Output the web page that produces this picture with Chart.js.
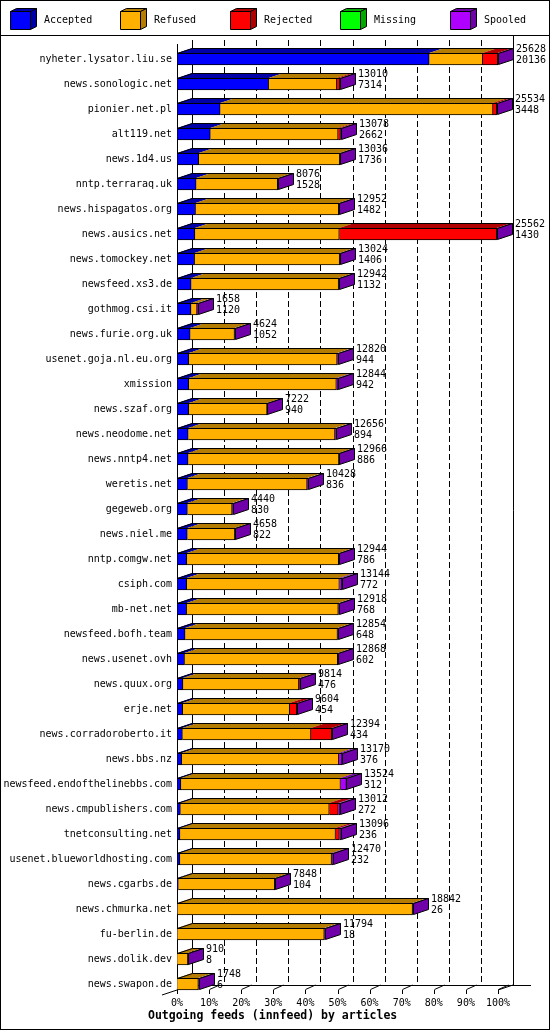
<!DOCTYPE html>
<html>
<head>
<meta charset="utf-8">
<script src="https://cdn.jsdelivr.net/npm/chart.js@4/dist/chart.umd.min.js"></script>
<style>
  html, body { margin: 0; padding: 0; background: #fff; }
</style>
</head>
<body>
<canvas id="feeds" width="550" height="1030"></canvas>
<script>
// ─── data ─────────────────────────────────────────────
const servers = [
  'nyheter.lysator.liu.se', 'news.sonologic.net', 'pionier.net.pl', 'alt119.net',
  'news.1d4.us', 'nntp.terraraq.uk', 'news.hispagatos.org', 'news.ausics.net',
  'news.tomockey.net', 'newsfeed.xs3.de', 'gothmog.csi.it', 'news.furie.org.uk',
  'usenet.goja.nl.eu.org', 'xmission', 'news.szaf.org', 'news.neodome.net',
  'news.nntp4.net', 'weretis.net', 'gegeweb.org', 'news.niel.me',
  'nntp.comgw.net', 'csiph.com', 'mb-net.net', 'newsfeed.bofh.team',
  'news.usenet.ovh', 'news.quux.org', 'erje.net', 'news.corradoroberto.it',
  'news.bbs.nz', 'newsfeed.endofthelinebbs.com', 'news.cmpublishers.com', 'tnetconsulting.net',
  'usenet.blueworldhosting.com', 'news.cgarbs.de', 'news.chmurka.net', 'fu-berlin.de',
  'news.dolik.dev', 'news.swapon.de'
];
// top number printed next to each bar (articles offered)
const offered = [
  25628, 13010, 25534, 13078, 13036, 8076, 12952, 25562,
  13024, 12942, 1658, 4624, 12820, 12844, 7222, 12656,
  12966, 10428, 4440, 4658, 12944, 13144, 12918, 12854,
  12868, 9814, 9604, 12394, 13170, 13524, 13012, 13096,
  12470, 7848, 18842, 11794, 910, 1748
];
// bottom number printed next to each bar
const accepted = [
  20136, 7314, 3448, 2662, 1736, 1528, 1482, 1430,
  1406, 1132, 1120, 1052, 944, 942, 940, 894,
  886, 836, 830, 822, 786, 772, 768, 648,
  602, 476, 454, 434, 376, 312, 272, 236,
  232, 104, 26, 18, 8, 6
];
const refused = [
  4270, 5440, 21780, 10200, 11260, 6508, 11430, 11528,
  11578, 11770, 480, 3540, 11840, 11780, 6250, 11720,
  12040, 9552, 3570, 3796, 12120, 12192, 12110, 12166,
  12226, 9252, 8540, 10260, 12540, 12740, 11884, 12420,
  12108, 7700, 18780, 11740, 860, 1700
];
const rejected = [
  1200, 240, 290, 190, 0, 0, 0, 12560,
  0, 0, 0, 0, 0, 0, 0, 0,
  0, 0, 0, 0, 0, 0, 0, 0,
  0, 50, 570, 1660, 0, 0, 718, 310,
  0, 0, 0, 0, 0, 0
];
const missing = [
  0, 0, 0, 0, 0, 0, 0, 0,
  0, 0, 0, 0, 0, 0, 0, 0,
  0, 0, 0, 0, 0, 0, 0, 0,
  0, 0, 0, 0, 0, 0, 0, 0,
  0, 0, 0, 0, 0, 0
];
const spooled = [
  22, 16, 16, 26, 40, 40, 40, 44,
  40, 40, 58, 32, 36, 122, 32, 42,
  40, 40, 40, 40, 38, 180, 40, 40,
  40, 36, 40, 40, 254, 472, 138, 130,
  130, 44, 36, 36, 42, 42
];
const seriesNames = ['Accepted', 'Refused', 'Rejected', 'Missing', 'Spooled'];
const xTickValues = [0, 10, 20, 30, 40, 50, 60, 70, 80, 90, 100];
const chartTitle = 'Outgoing feeds (innfeed) by articles';

// ─── look ─────────────────────────────────────────────
const FACE  = ['#0000ff', '#ffb000', '#ff0000', '#00ff00', '#b000ff'];
const SHADE = ['#0000a8', '#b47c00', '#b00000', '#00a800', '#7000a8'];
const DX = 15, DY = 5;               // 3d depth of the bars
const MONO = 'DejaVu Sans Mono';

const maxTotal = Math.max(...offered);
const pct = arr => arr.map(v => v / maxTotal * 100);
const P = v => Math.round(v) + 0.5;

function poly(ctx, pts, fill, stroke) {
  ctx.beginPath();
  pts.forEach(([px, py], i) => i ? ctx.lineTo(px, py) : ctx.moveTo(px, py));
  ctx.closePath();
  if (fill) { ctx.fillStyle = fill; ctx.fill(); }
  if (stroke) { ctx.strokeStyle = stroke; ctx.stroke(); }
}
function line(ctx, x1, y1, x2, y2) {
  ctx.beginPath(); ctx.moveTo(x1, y1); ctx.lineTo(x2, y2); ctx.stroke();
}

const threeD = {
  id: 'threeD',
  beforeDatasetsDraw(chart) {
    const { ctx, scales: { x } } = chart;
    const metas = chart.getSortedVisibleDatasetMetas();
    const lastEl = metas[0].data[servers.length - 1];
    const floorF = Math.round(lastEl.y + lastEl.height / 2);
    const floorB = floorF - DY;
    const x0 = x.getPixelForValue(0), x100 = x.getPixelForValue(100);
    ctx.save();
    ctx.strokeStyle = '#000';
    ctx.lineWidth = 1;
    // dashed grid on the back wall
    ctx.setLineDash([6, 3]);
    xTickValues.slice(1, -1).forEach(v => {
      const px = P(x.getPixelForValue(v) + DX);
      line(ctx, px, 40, px, floorB);
    });
    ctx.setLineDash([]);
    line(ctx, P(x0 + DX), 40, P(x0 + DX), floorB);
    line(ctx, P(x100 + DX), 36, P(x100 + DX), floorB + 0.5);
    line(ctx, P(x0), 44, P(x0), floorF);
    // floor
    line(ctx, x0 - DX, floorF + DY, x0 + DX, floorB);
    line(ctx, x0 + DX, floorB + 0.5, x100 + DX + 18, floorB + 0.5);
    line(ctx, x100, floorF, x100 + DX, floorB);
    xTickValues.forEach(v => {
      const px = P(x.getPixelForValue(v));
      line(ctx, px, floorF, px, floorF + 4);
      line(ctx, px, floorF - 0.5, px + 10, floorB);
    });
    ctx.restore();
  },
  afterDatasetsDraw(chart) {
    const { ctx } = chart;
    const metas = chart.getSortedVisibleDatasetMetas();
    ctx.save();
    ctx.lineWidth = 1;
    servers.forEach((name, i) => {
      const segs = metas.map((m, k) => {
        const el = m.data[i];
        return { k, a: el.base, b: el.x, y: el.y, h: el.height };
      }).filter(s => s.b - s.a > 0.01);
      if (!segs.length) return;
      const top = Math.round(segs[0].y - segs[0].h / 2);
      const bot = Math.round(segs[0].y + segs[0].h / 2);
      const start = segs[0].a, end = segs[segs.length - 1].b;
      // top faces
      segs.forEach(s => {
        poly(ctx, [[s.a, top], [s.b, top], [s.b + DX, top - DY], [s.a + DX, top - DY]], SHADE[s.k]);
      });
      poly(ctx, [[P(start), top + 0.5], [P(end), top + 0.5], [P(end + DX), top - DY + 0.5], [P(start + DX), top - DY + 0.5]], null, '#000');
      // side face
      const lastK = segs[segs.length - 1].k;
      poly(ctx, [[P(end), top + 0.5], [P(end + DX), top - DY + 0.5], [P(end + DX), bot - DY - 0.5], [P(end), bot - 0.5]], SHADE[lastK], '#000');
      // numbers
      ctx.fillStyle = '#000';
      ctx.font = '10px ' + MONO;
      ctx.textAlign = 'left';
      ctx.textBaseline = 'middle';
      const tx = Math.round(end + DX + 3);
      ctx.fillText(String(offered[i]), tx, segs[0].y - 9.5);
      ctx.fillText(String(accepted[i]), tx, segs[0].y + 1.5);
    });
    ctx.restore();
  },
  afterDraw(chart) {
    const { ctx } = chart;
    ctx.save();
    ctx.strokeStyle = '#000';
    ctx.lineWidth = 1;
    ctx.strokeRect(0.5, 0.5, 549, 1029);
    line(ctx, 0, 35.5, 550, 35.5);
    // legend
    ctx.font = '10px ' + MONO;
    ctx.textAlign = 'left';
    ctx.textBaseline = 'middle';
    seriesNames.forEach((n, k) => {
      const bx = 10 + 110 * k;
      poly(ctx, [[bx + 0.5, 11.5], [bx + 20.5, 11.5], [bx + 26.5, 8.5], [bx + 6.5, 8.5]], SHADE[k], '#000');
      poly(ctx, [[bx + 20.5, 11.5], [bx + 26.5, 8.5], [bx + 26.5, 26.5], [bx + 20.5, 29.5]], SHADE[k], '#000');
      poly(ctx, [[bx + 0.5, 11.5], [bx + 20.5, 11.5], [bx + 20.5, 29.5], [bx + 0.5, 29.5]], FACE[k], '#000');
      ctx.fillStyle = '#000';
      ctx.fillText(n, bx + 34, 20);
    });
    // title
    ctx.font = 'bold 11.5px ' + MONO;
    ctx.fillText(chartTitle, 148, 1016.5);
    ctx.restore();
  }
};

const datasets = [accepted, refused, rejected, missing, spooled].map((arr, k) => ({
  label: seriesNames[k],
  data: pct(arr),
  backgroundColor: FACE[k],
  borderColor: '#000',
  borderWidth: 1,
  borderSkipped: k === 0 ? false : 'start',
  barThickness: 12
}));

new Chart(document.getElementById('feeds'), {
  type: 'bar',
  data: { labels: servers, datasets },
  options: {
    indexAxis: 'y',
    responsive: false,
    animation: false,
    devicePixelRatio: 1,
    layout: { padding: { top: 46.5, right: 52, left: 0, bottom: 0 } },
    plugins: { legend: { display: false }, tooltip: { enabled: false } },
    scales: {
      x: {
        stacked: true, min: 0, max: 100,
        afterBuildTicks: s => { s.ticks = xTickValues.map(v => ({ value: v })); },
        ticks: { callback: v => v + '%', font: { family: MONO, size: 10 }, color: '#000', padding: 1, maxRotation: 0, autoSkip: false },
        grid: { display: false, drawTicks: false }, border: { display: false },
        afterFit: s => { s.height = 33.5; }
      },
      y: {
        stacked: true,
        ticks: { font: { family: MONO, size: 10 }, color: '#000', padding: 5, autoSkip: false },
        grid: { display: false, drawTicks: false }, border: { display: false },
        afterFit: s => { s.width = 177; }
      }
    }
  },
  plugins: [threeD]
});
</script>
</body>
</html>
